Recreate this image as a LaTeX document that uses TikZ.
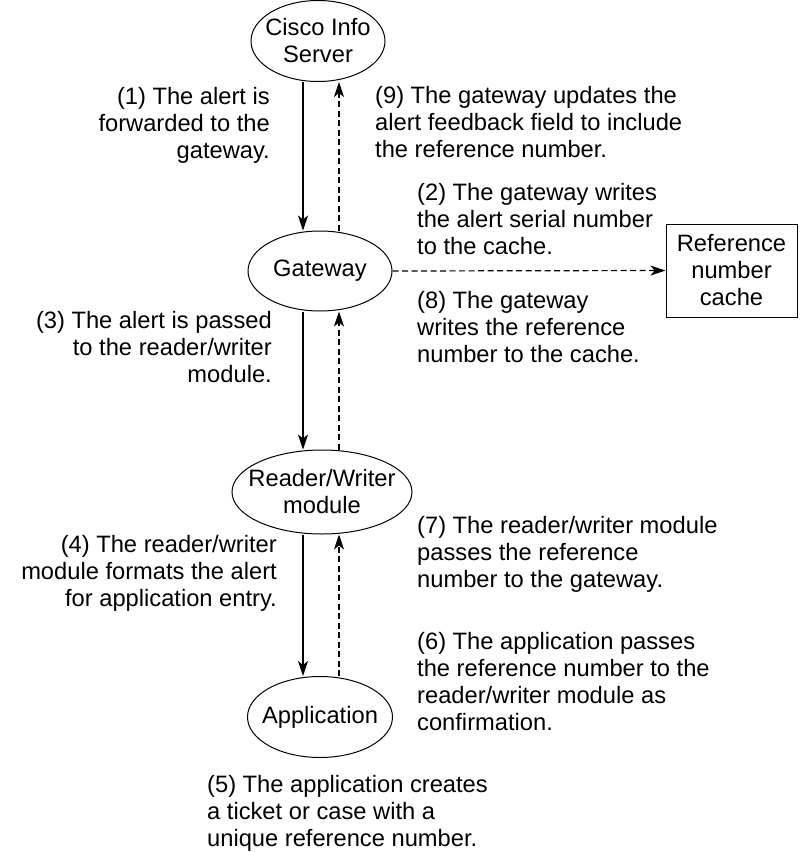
\documentclass[tikz,border=0pt]{standalone}
\usepackage{fontspec}
\setmainfont{Liberation Sans}
\usetikzlibrary{shapes.geometric,arrows.meta}
\begin{document}
\begin{tikzpicture}[x=1pt,y=-1pt,
  every node/.style={font=\fontsize{23.7pt}{27pt}\selectfont, inner sep=0pt},
  oval/.style={draw, ellipse, line width=1pt, align=center, inner xsep=-20pt, inner ysep=-10pt},
  cachebox/.style={draw, rectangle, line width=1pt, align=center},
  lbl/.style={align=left, anchor=north west},
  rlbl/.style={align=right, anchor=north east},
  flow/.style={line width=1.2pt, -{Stealth[length=15pt,width=10pt,inset=4pt]}},
  back/.style={flow, dash pattern=on 6pt off 3.5pt}]
\useasboundingbox (0,0) rectangle (801,852);

\node[oval, minimum width=134pt, minimum height=81pt] (cis) at (318,41) {Cisco Info\\Server};
\node[oval, minimum width=144pt, minimum height=80pt] (gw) at (320,271) {Gateway};
\node[oval, minimum width=180pt, minimum height=84pt] (rw) at (322,492) {Reader/Writer\\module};
\node[oval, minimum width=145pt, minimum height=81pt] (app) at (320,717) {Application};
\node[cachebox, minimum width=131pt, minimum height=93pt] (cache) at (731.5,270.5) {Reference\\number\\cache};

\coordinate (sx) at (303,0);
\coordinate (dx) at (339,0);

\draw[flow] (cis.south -| sx) -- (gw.north -| sx);
\draw[flow] (gw.south -| sx) -- (rw.north -| sx);
\draw[flow] (rw.south -| sx) -- (app.north -| sx);
\draw[back] (gw.north -| dx) -- (cis.south -| dx);
\draw[back] (rw.north -| dx) -- (gw.south -| dx);
\draw[back] (app.north -| dx) -- (rw.south -| dx);
\draw[back] (gw.east) -- (cache.west);

\node[rlbl] (t1) at (270,87) {(1) The alert is\\forwarded to the\\gateway.};
\node[lbl] (t9) at (375,86) {(9) The gateway updates the\\alert feedback field to include\\the reference number.};
\node[lbl] (t2) at (417,183) {(2) The gateway writes\\the alert serial number\\to the cache.};
\node[lbl] (t8) at (417,291) {(8) The gateway\\writes the reference\\number to the cache.};
\node[rlbl] (t3) at (272,311) {(3) The alert is passed\\to the reader/writer\\module.};
\node[lbl] (t7) at (417,516) {(7) The reader/writer module\\passes the reference\\number to the gateway.};
\node[rlbl] (t4) at (277,535) {(4) The reader/writer\\module formats the alert\\for application entry.};
\node[lbl] (t6) at (417,632) {(6) The application passes\\the reference number to the\\reader/writer module as\\confirmation.};
\node[lbl] (t5) at (207,775) {(5) The application creates\\a ticket or case with a\\unique reference number.};
\end{tikzpicture}
\end{document}
